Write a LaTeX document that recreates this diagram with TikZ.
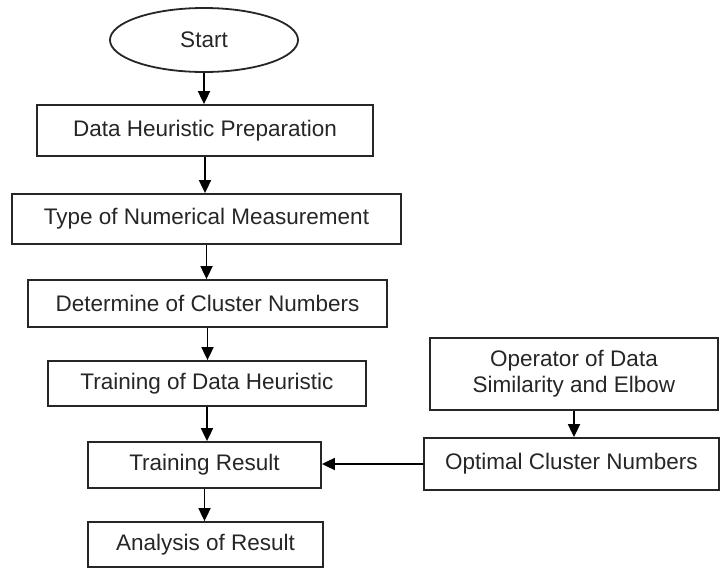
\documentclass[tikz,border=0pt]{standalone}
\usepackage{fontspec}
\setmainfont{Liberation Sans}
\usetikzlibrary{arrows.meta,shapes.geometric}
\begin{document}
\begin{tikzpicture}[x=1pt,y=-1pt,
  every node/.style={font=\fontsize{22.5}{26}\selectfont,text=black!85},
  box/.style={draw=black!85,line width=1.8pt,rectangle,inner sep=0pt,align=center},
  conn/.style={draw=black,line width=1.8pt,-{Triangle[width=12pt,length=13pt]}}]
\useasboundingbox (0,0) rectangle (721,568);
\node[draw=black!85,line width=1.8pt,ellipse,minimum width=188pt,minimum height=64pt,inner sep=0pt] (start) at (204,40) {Start};
\node[box,minimum width=336pt,minimum height=51pt] (prep) at (205,130.5) {Data Heuristic Preparation};
\node[box,minimum width=389pt,minimum height=50pt] (type) at (206.5,219) {Type of Numerical Measurement};
\node[box,minimum width=359pt,minimum height=47pt] (det) at (207.5,303.5) {Determine of Cluster Numbers};
\node[box,minimum width=318pt,minimum height=45pt] (train) at (207,383.5) {Training of Data Heuristic};
\node[box,minimum width=233pt,minimum height=46pt] (res) at (204.5,465) {Training Result};
\node[box,minimum width=235pt,minimum height=45pt] (ana) at (205.5,544.5) {Analysis of Result};
\node[box,minimum width=288pt,minimum height=72pt] (op) at (574,374) {Operator of Data\\Similarity and Elbow};
\node[box,minimum width=295pt,minimum height=52pt] (opt) at (571.5,464) {Optimal Cluster Numbers};
\draw[conn] (start.south) -- (start.south |- prep.north);
\draw[conn] (prep.south) -- (prep.south |- type.north);
\draw[conn] (type.south) -- (type.south |- det.north);
\draw[conn] (det.south) -- (det.south |- train.north);
\draw[conn] (train.south) -- (train.south |- res.north);
\draw[conn] (res.south) -- (res.south |- ana.north);
\draw[conn] (op.south) -- (op.south |- opt.north);
\draw[conn] (opt.west) -- (opt.west -| res.east);
\end{tikzpicture}
\end{document}
